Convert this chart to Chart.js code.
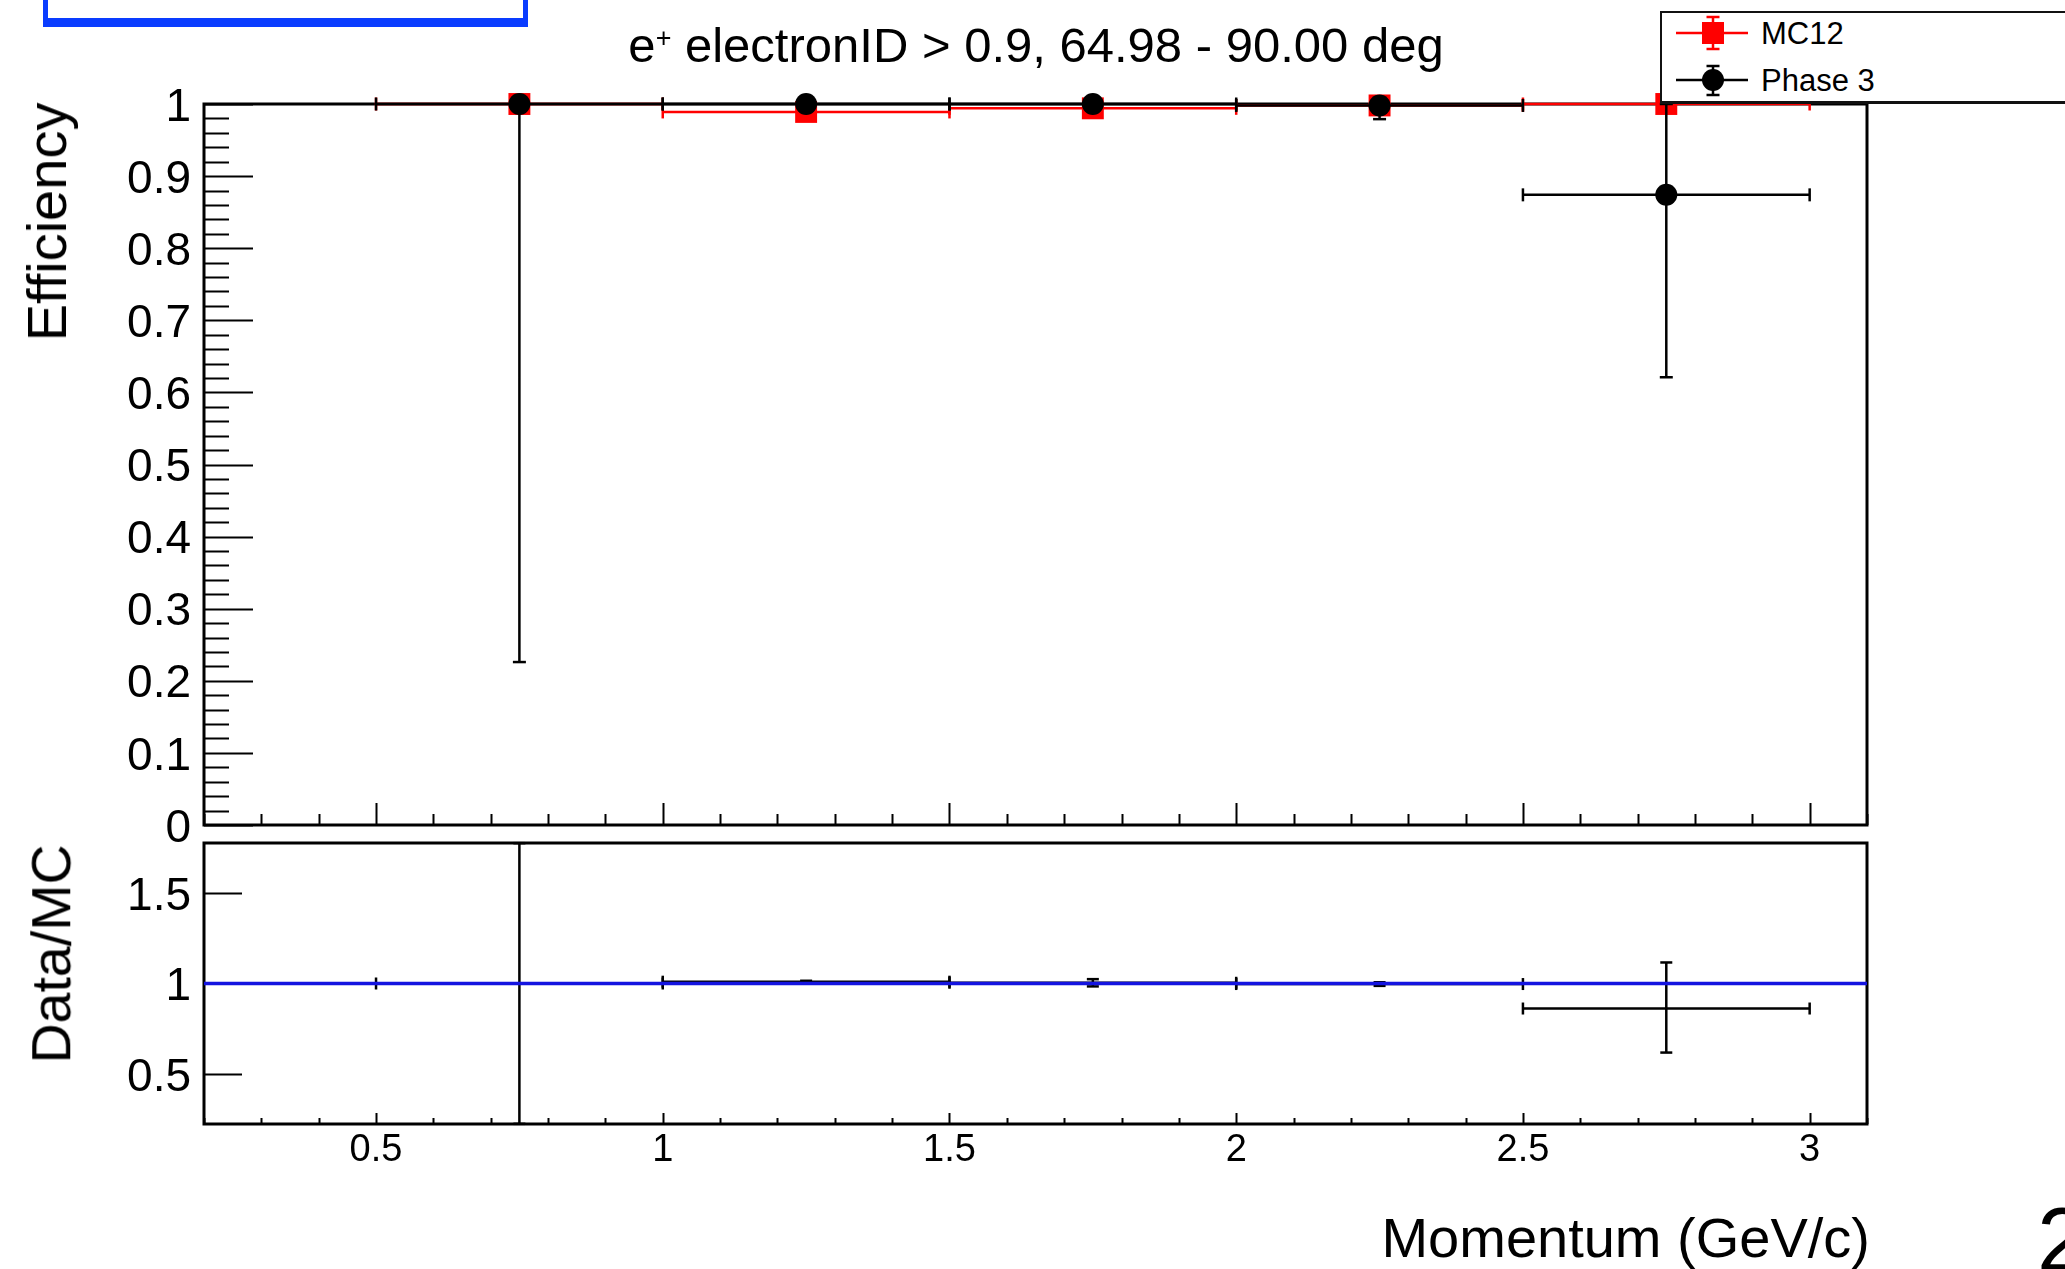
<!DOCTYPE html>
<html>
<head>
<meta charset="utf-8">
<script src="https://cdn.jsdelivr.net/npm/chart.js@4.4.1/dist/chart.umd.min.js"></script>
<style>
  html, body { margin: 0; padding: 0; background: #fff; }
  body { width: 2065px; height: 1269px; position: relative; overflow: hidden;
         font-family: 'Liberation Sans', Arial, Helvetica, sans-serif; color: #000; }
  canvas { position: absolute; left: 0; }
  #c1 { top: 0; width: 2065px; height: 870px; }
  #c2 { top: 790px; width: 2065px; height: 479px; }
  .abs { position: absolute; white-space: nowrap; line-height: 1; z-index: 3; }
  #bluebox { position: absolute; left: 43px; top: -20px; width: 485px; height: 47px; box-sizing: border-box;
             border-left: 5px solid #0a3cff; border-right: 5px solid #0a3cff; border-bottom: 9px solid #0a3cff; z-index: 3; }
  #title { left: 1036px; top: 21px; font-size: 49px; transform: translateX(-50%); }
  #title .sup { font-size: 0.55em; position: relative; top: -15px; }
  .ytitle { transform: translate(-50%, -50%) rotate(-90deg); }
  #effTitle { left: 47px; top: 222px; font-size: 56px; }
  #ratioTitle { left: 52px; top: 954px; font-size: 55.5px; }
  #xTitle { right: 195px; top: 1210px; font-size: 56px; }
  #pageNum { left: 2037px; top: 1195px; font-size: 90px; }
  #legend { position: absolute; left: 1660px; top: 11px; width: 520px; height: 93px; box-sizing: border-box;
            border: 2px solid #111; border-bottom-width: 3px; background: #fff; z-index: 4; }
  .legtext { position: absolute; font-size: 31px; line-height: 1; white-space: nowrap; z-index: 5; }
  #legSvg { position: absolute; left: 1660px; top: 0; z-index: 5; }
</style>
</head>
<body>
<div id="bluebox"></div>
<canvas id="c1" width="2065" height="870"></canvas>
<canvas id="c2" width="2065" height="479"></canvas>

<div id="title" class="abs">e<span class="sup">+</span> electronID &gt; 0.9, 64.98 - 90.00 deg</div>
<div id="effTitle" class="abs ytitle">Efficiency</div>
<div id="ratioTitle" class="abs ytitle">Data/MC</div>
<div id="xTitle" class="abs">Momentum (GeV/c)</div>
<div id="pageNum" class="abs">2</div>

<div id="legend"></div>
<svg id="legSvg" width="110" height="110" viewBox="0 0 110 110">
  <!-- MC12 -->
  <line x1="16" y1="33" x2="88" y2="33" stroke="#ff0000" stroke-width="2.5"/>
  <line x1="53" y1="17" x2="53" y2="49" stroke="#ff0000" stroke-width="2.5"/>
  <line x1="46.5" y1="17" x2="59.5" y2="17" stroke="#ff0000" stroke-width="2.5"/>
  <line x1="46.5" y1="49" x2="59.5" y2="49" stroke="#ff0000" stroke-width="2.5"/>
  <rect x="42" y="22" width="22" height="22" fill="#ff0000"/>
  <!-- Phase 3 -->
  <line x1="16" y1="80" x2="88" y2="80" stroke="#000" stroke-width="2.5"/>
  <line x1="53" y1="66" x2="53" y2="95" stroke="#000" stroke-width="2.5"/>
  <line x1="46.5" y1="66" x2="59.5" y2="66" stroke="#000" stroke-width="2.5"/>
  <line x1="46.5" y1="95" x2="59.5" y2="95" stroke="#000" stroke-width="2.5"/>
  <circle cx="53" cy="80" r="11" fill="#000"/>
</svg>
<div class="legtext" style="left:1761px; top:18px;">MC12</div>
<div class="legtext" style="left:1761px; top:65px;">Phase 3</div>

<script>
// ---------------- data ----------------
const FONT = "'Liberation Sans', Arial, Helvetica, sans-serif";
const X_MIN = 0.2, X_MAX = 3.1;
const EFF_MIN = 0, EFF_MAX = 1;
const RATIO_MIN = 0.225, RATIO_MAX = 1.775;

const binCenters   = [0.75, 1.25, 1.75, 2.25, 2.75];
const binHalfWidth = [0.25, 0.25, 0.25, 0.25, 0.25];

const mc12Eff      = [1.000, 0.989, 0.994, 0.998, 1.000];
const mc12ErrLow   = [0.000, 0.003, 0.003, 0.002, 0.000];
const mc12ErrHigh  = [0.000, 0.003, 0.003, 0.002, 0.000];

const phase3Eff     = [1.000, 1.000, 1.000, 0.998, 0.874];
const phase3ErrLow  = [0.774, 0.003, 0.006, 0.019, 0.253];
const phase3ErrHigh = [0.000, 0.000, 0.000, 0.002, 0.126];

const ratioVal     = [1.000, 1.010, 1.004, 0.997, 0.862];
const ratioErrLow  = [0.774, 0.005, 0.020, 0.010, 0.243];
const ratioErrHigh = [0.774, 0.005, 0.020, 0.010, 0.254];

const effTickValues   = [0, 0.1, 0.2, 0.3, 0.4, 0.5, 0.6, 0.7, 0.8, 0.9, 1];
const effTickLabels   = ['0', '0.1', '0.2', '0.3', '0.4', '0.5', '0.6', '0.7', '0.8', '0.9', '1'];
const ratioTickValues = [0.5, 1, 1.5];
const ratioTickLabels = ['0.5', '1', '1.5'];
const momTickValues   = [0.5, 1, 1.5, 2, 2.5, 3];
const momTickLabels   = ['0.5', '1', '1.5', '2', '2.5', '3'];
const ratioRefLine    = 1;

// ---------------- helpers ----------------
function hBars(xs, ys, hw) {
  const d = [];
  xs.forEach((x, i) => {
    d.push({x: x - hw[i], y: ys[i], cap: true}, {x: x + hw[i], y: ys[i], cap: true}, {x: x, y: null});
  });
  return d;
}
function vBars(xs, ys, lo, hi) {
  const d = [];
  xs.forEach((x, i) => {
    if (lo[i] > 0) d.push({x, y: ys[i] - lo[i], cap: true}, {x, y: ys[i], cap: false}, {x, y: null});
    if (hi[i] > 0) d.push({x, y: ys[i], cap: false}, {x, y: ys[i] + hi[i], cap: true}, {x, y: null});
  });
  return d;
}
function points(xs, ys) { return xs.map((x, i) => ({x, y: ys[i]})); }

function barDataset(data, color, capR, rot, order) {
  return {
    type: 'line', data, order, clip: false,
    borderColor: color, borderWidth: 2.5, showLine: true, spanGaps: false, fill: false, tension: 0,
    pointStyle: 'line', pointRotation: rot,
    pointRadius: c => (c.raw && c.raw.cap) ? capR : 0,
    pointHoverRadius: 0,
    pointBorderColor: color, pointBackgroundColor: color, pointBorderWidth: 2.5
  };
}
function markerDataset(data, color, style, r, order) {
  return {
    type: 'line', data, order, clip: false, showLine: false,
    pointStyle: style, pointRadius: r, pointHoverRadius: r,
    pointBackgroundColor: color, pointBorderColor: color, pointBorderWidth: 0
  };
}

// frame + inward ticks, drawn through the chart's own scales
const rootFrame = {
  id: 'rootFrame',
  beforeDatasetsDraw(chart, args, o) {
    const {ctx, chartArea: a} = chart;
    const xs = chart.scales.x, ys = chart.scales.y;
    ctx.save();
    ctx.strokeStyle = '#000';
    ctx.lineWidth = 2;
    ctx.beginPath();
    const kx0 = Math.ceil(xs.min / 0.1 - 1e-6), kx1 = Math.floor(xs.max / 0.1 + 1e-6);
    for (let k = kx0; k <= kx1; k++) {
      const v = k * 0.1;
      const isMajor = Math.abs(v / 0.5 - Math.round(v / 0.5)) < 1e-6;
      const len = isMajor ? o.xMajorLen : o.xMinorLen;
      if (!len) continue;
      const px = Math.round(xs.getPixelForValue(v)) + 0.5;
      ctx.moveTo(px, a.bottom);
      ctx.lineTo(px, a.bottom - len);
    }
    for (const v of o.yMajor) {
      const py = Math.round(ys.getPixelForValue(v)) + 0.5;
      ctx.moveTo(a.left, py);
      ctx.lineTo(a.left + o.yMajorLen, py);
    }
    if (o.yMinorStep) {
      const n0 = Math.ceil(ys.min / o.yMinorStep - 1e-6), n1 = Math.floor(ys.max / o.yMinorStep + 1e-6);
      for (let k = n0; k <= n1; k++) {
        const v = k * o.yMinorStep;
        if (o.yMajor.some(m => Math.abs(m - v) < 1e-6)) continue;
        const py = Math.round(ys.getPixelForValue(v)) + 0.5;
        ctx.moveTo(a.left, py);
        ctx.lineTo(a.left + o.yMinorLen, py);
      }
    }
    ctx.stroke();
    ctx.lineWidth = 3;
    ctx.strokeRect(a.left, a.top, a.right - a.left, a.bottom - a.top);
    ctx.restore();
  }
};

const tickFont = size => ({family: FONT, size, lineHeight: 1.2});
const noGrid = {display: false, drawTicks: false, tickLength: 0};

// ---------------- upper: efficiency ----------------
new Chart(document.getElementById('c1'), {
  type: 'line',
  data: {
    datasets: [
      markerDataset(points(binCenters, phase3Eff), '#000000', 'circle', 11, 0),
      barDataset(hBars(binCenters, phase3Eff, binHalfWidth), '#000000', 6.5, 90, 1),
      barDataset(vBars(binCenters, phase3Eff, phase3ErrLow, phase3ErrHigh), '#000000', 6.5, 0, 1),
      markerDataset(points(binCenters, mc12Eff), '#ff0000', 'rect', 15.5, 2),
      barDataset(hBars(binCenters, mc12Eff, binHalfWidth), '#ff0000', 6.5, 90, 3),
      barDataset(vBars(binCenters, mc12Eff, mc12ErrLow, mc12ErrHigh), '#ff0000', 6.5, 0, 3)
    ]
  },
  plugins: [rootFrame],
  options: {
    responsive: false, animation: false, events: [],
    layout: {padding: {left: 0, right: 198, top: 104, bottom: 45}},
    plugins: {
      legend: {display: false}, tooltip: {enabled: false}, title: {display: false},
      rootFrame: {xMajorLen: 22, xMinorLen: 11, yMajor: effTickValues, yMajorLen: 49, yMinorStep: 0.02, yMinorLen: 25}
    },
    scales: {
      x: {type: 'linear', min: X_MIN, max: X_MAX, display: false},
      y: {
        type: 'linear', min: EFF_MIN, max: EFF_MAX,
        afterFit: s => { s.width = 204; },
        afterBuildTicks: s => { s.ticks = effTickValues.map(v => ({value: v})); },
        grid: noGrid, border: {display: false},
        ticks: {padding: 13, labelOffset: 4, color: '#000', font: tickFont(46), autoSkip: false,
                callback: v => effTickLabels[effTickValues.indexOf(v)]}
      }
    }
  }
});

// ---------------- lower: ratio ----------------
new Chart(document.getElementById('c2'), {
  type: 'line',
  data: {
    datasets: [
      {type: 'line', data: [{x: X_MIN, y: ratioRefLine}, {x: X_MAX, y: ratioRefLine}], order: 0,
       borderColor: '#1414e0', borderWidth: 3.5, pointRadius: 0, pointHoverRadius: 0, fill: false, clip: false},
      barDataset(hBars(binCenters, ratioVal, binHalfWidth), '#000000', 6, 90, 1),
      barDataset(vBars(binCenters, ratioVal, ratioErrLow, ratioErrHigh), '#000000', 6, 0, 1)
    ]
  },
  plugins: [rootFrame],
  options: {
    responsive: false, animation: false, events: [],
    layout: {padding: {left: 0, right: 198, top: 53, bottom: 45}},
    plugins: {
      legend: {display: false}, tooltip: {enabled: false}, title: {display: false},
      rootFrame: {xMajorLen: 11, xMinorLen: 6, yMajor: ratioTickValues, yMajorLen: 38, yMinorStep: 0, yMinorLen: 0}
    },
    scales: {
      x: {
        type: 'linear', min: X_MIN, max: X_MAX,
        afterFit: s => { s.height = 100; },
        afterBuildTicks: s => { s.ticks = momTickValues.map(v => ({value: v})); },
        grid: noGrid, border: {display: false},
        ticks: {padding: 4, color: '#000', font: tickFont(38), autoSkip: false, maxRotation: 0, minRotation: 0,
                callback: v => momTickLabels[momTickValues.indexOf(v)]}
      },
      y: {
        type: 'linear', min: RATIO_MIN, max: RATIO_MAX,
        afterFit: s => { s.width = 204; },
        afterBuildTicks: s => { s.ticks = ratioTickValues.map(v => ({value: v})); },
        grid: noGrid, border: {display: false},
        ticks: {padding: 13, labelOffset: 4, color: '#000', font: tickFont(46), autoSkip: false,
                callback: v => ratioTickLabels[ratioTickValues.indexOf(v)]}
      }
    }
  }
});
</script>
</body>
</html>
